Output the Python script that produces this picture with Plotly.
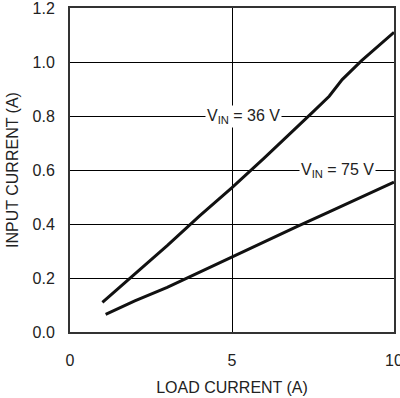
import plotly.graph_objects as go

load_36 = [1, 2, 3, 4, 5, 6, 7, 7.5, 8, 8.4, 9, 10]
iin_36 = [0.11, 0.215, 0.32, 0.43, 0.535, 0.645, 0.757, 0.815, 0.873, 0.935, 1.005, 1.11]

load_75 = [1.1, 2, 3, 4, 5, 6, 7, 8, 9, 10]
iin_75 = [0.065, 0.115, 0.165, 0.222, 0.278, 0.335, 0.39, 0.445, 0.50, 0.555]

x_ticks = [0, 5, 10]
y_ticks = [0.0, 0.2, 0.4, 0.6, 0.8, 1.0, 1.2]

font = dict(family="Liberation Sans, Arial, sans-serif", size=16, color="#222")

fig = go.Figure()
fig.add_trace(go.Scatter(x=load_36, y=iin_36, mode="lines",
                         line=dict(color="#111", width=3), showlegend=False,
                         cliponaxis=False))
fig.add_trace(go.Scatter(x=load_75, y=iin_75, mode="lines",
                         line=dict(color="#111", width=3), showlegend=False,
                         cliponaxis=False))

fig.add_annotation(x=5.37, y=0.8, text="V<sub>IN</sub> = 36 V", showarrow=False,
                   bgcolor="white", font=font, borderpad=1)
fig.add_annotation(x=8.26, y=0.6, text="V<sub>IN</sub> = 75 V", showarrow=False,
                   bgcolor="white", font=font, borderpad=1)

fig.update_layout(
    width=400, height=398,
    margin=dict(l=70, r=6, t=8, b=66, autoexpand=False),
    paper_bgcolor="white", plot_bgcolor="white",
    font=font,
)
fig.update_xaxes(range=[0, 10], tickvals=x_ticks, ticktext=[str(v) for v in x_ticks],
                 showgrid=True, gridcolor="#000", gridwidth=1,
                 showline=True, linecolor="#333", linewidth=2, mirror=True,
                 zeroline=False, ticks="", ticklabelstandoff=13, automargin=False,
                 tickfont=font, ticklabeloverflow="allow",
                 title=dict(text="LOAD CURRENT (A)", standoff=14, font=font))
fig.update_yaxes(range=[0, 1.2], tickvals=y_ticks, ticktext=[f"{v:.1f}" for v in y_ticks],
                 showgrid=True, gridcolor="#000", gridwidth=1,
                 showline=True, linecolor="#333", linewidth=2, mirror=True,
                 zeroline=False, ticks="", ticklabelstandoff=10, automargin=False,
                 tickfont=font, ticklabeloverflow="allow",
                 title=dict(text="INPUT CURRENT (A)", standoff=10, font=font))

fig.write_html("out.html", config={"displayModeBar": False},
               post_script="document.body.style.margin='0';document.body.style.overflow='hidden';")
